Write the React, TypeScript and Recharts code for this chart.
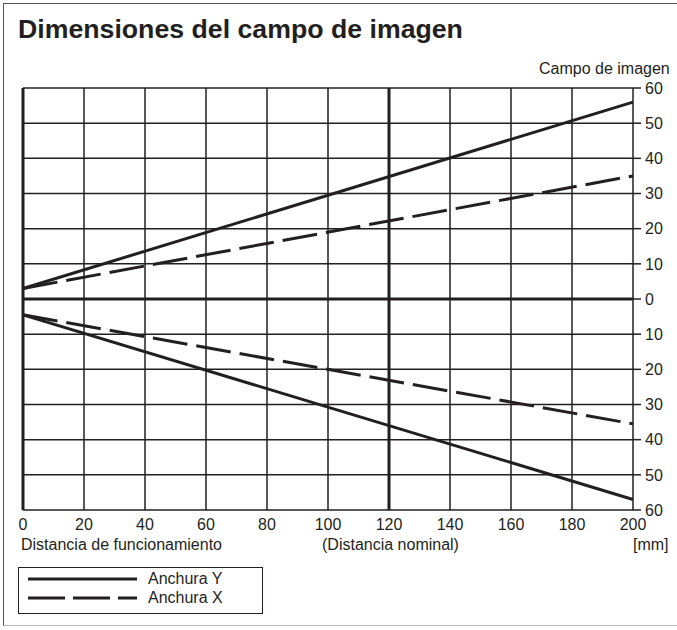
import { LineChart, Line, XAxis, YAxis, CartesianGrid, ReferenceLine } from "recharts";

const distances = [0, 200];
const anchuraYUpper = [3, 56];
const anchuraXUpper = [3, 35];
const anchuraYLower = [-4.5, -57];
const anchuraXLower = [-4.5, -35.5];

const xTicks = [0, 20, 40, 60, 80, 100, 120, 140, 160, 180, 200];
const yTicks = [-60, -50, -40, -30, -20, -10, 0, 10, 20, 30, 40, 50, 60];

const data = distances.map((d, i) => ({
  d,
  yUp: anchuraYUpper[i],
  xUp: anchuraXUpper[i],
  yLo: anchuraYLower[i],
  xLo: anchuraXLower[i],
}));

const INK = "#231f20";
const FONT = "'Liberation Sans', Arial, Helvetica, sans-serif";
const DASH = "35 9";

export default function App() {
  const text = { position: "absolute" as const, fontFamily: FONT, fontSize: 16, color: INK, lineHeight: "18px", whiteSpace: "nowrap" as const };
  return (
    <div style={{ position: "absolute", left: 0, top: 0, width: 677, height: 630, background: "#fff", overflow: "hidden" }}>
      <div
        style={{
          position: "absolute",
          left: 3,
          top: 3,
          width: 700,
          height: 621,
          borderLeft: "1.5px solid #555",
          borderTop: "1.5px solid #555",
          borderBottom: "1px solid #bbb",
        }}
      />
      <div style={{ ...text, left: 18, top: 14, fontSize: 26.7, lineHeight: "30px", fontWeight: "bold" }}>
        Dimensiones del campo de imagen
      </div>
      <div style={{ ...text, left: 539, top: 60 }}>Campo de imagen</div>

      <div style={{ position: "absolute", left: 0, top: 0 }}>
        <LineChart width={677} height={630} data={data} margin={{ top: 88, right: 0, left: 23, bottom: 90 }}>
          <CartesianGrid stroke={INK} strokeWidth={1.5} strokeOpacity={1} />
          <XAxis
            dataKey="d"
            type="number"
            domain={[0, 200]}
            ticks={xTicks}
            axisLine={false}
            tickLine={false}
            tickSize={0}
            tickMargin={9}
            height={30}
            tick={{ fill: INK, fontSize: 16, fontFamily: FONT }}
          />
          <YAxis
            orientation="right"
            type="number"
            domain={[-60, 60]}
            ticks={yTicks}
            width={44}
            axisLine={false}
            tickLine={{ stroke: INK, strokeWidth: 1.5 }}
            tickSize={8}
            tickMargin={4}
            tickFormatter={(v: number) => String(Math.abs(v))}
            tick={{ fill: INK, fontSize: 16, fontFamily: FONT }}
          />
          <ReferenceLine x={0} stroke={INK} strokeWidth={3} />
          <ReferenceLine x={120} stroke={INK} strokeWidth={3} />
          <ReferenceLine y={0} stroke={INK} strokeWidth={3} />
          <Line dataKey="yUp" stroke={INK} strokeWidth={3} dot={false} isAnimationActive={false} />
          <Line dataKey="xUp" stroke={INK} strokeWidth={3} strokeDasharray={DASH} dot={false} isAnimationActive={false} />
          <Line dataKey="yLo" stroke={INK} strokeWidth={3} dot={false} isAnimationActive={false} />
          <Line dataKey="xLo" stroke={INK} strokeWidth={3} strokeDasharray={DASH} dot={false} isAnimationActive={false} />
        </LineChart>
      </div>

      <div style={{ ...text, left: 21, top: 536 }}>Distancia de funcionamiento</div>
      <div style={{ ...text, left: 322, top: 536 }}>(Distancia nominal)</div>
      <div style={{ ...text, left: 633, top: 536 }}>[mm]</div>

      <div
        style={{
          position: "absolute",
          left: 18,
          top: 567,
          width: 245,
          height: 47,
          border: `1px solid ${INK}`,
          boxSizing: "border-box",
        }}
      >
        <svg width={130} height={45} style={{ position: "absolute", left: 0, top: 0 }}>
          <line x1={9} x2={118} y1={11} y2={11} stroke={INK} strokeWidth={3} />
          <line x1={9} x2={118} y1={30} y2={30} stroke={INK} strokeWidth={3} strokeDasharray="37 8" />
        </svg>
        <div style={{ ...text, left: 129, top: 2 }}>Anchura Y</div>
        <div style={{ ...text, left: 129, top: 21 }}>Anchura X</div>
      </div>
    </div>
  );
}
